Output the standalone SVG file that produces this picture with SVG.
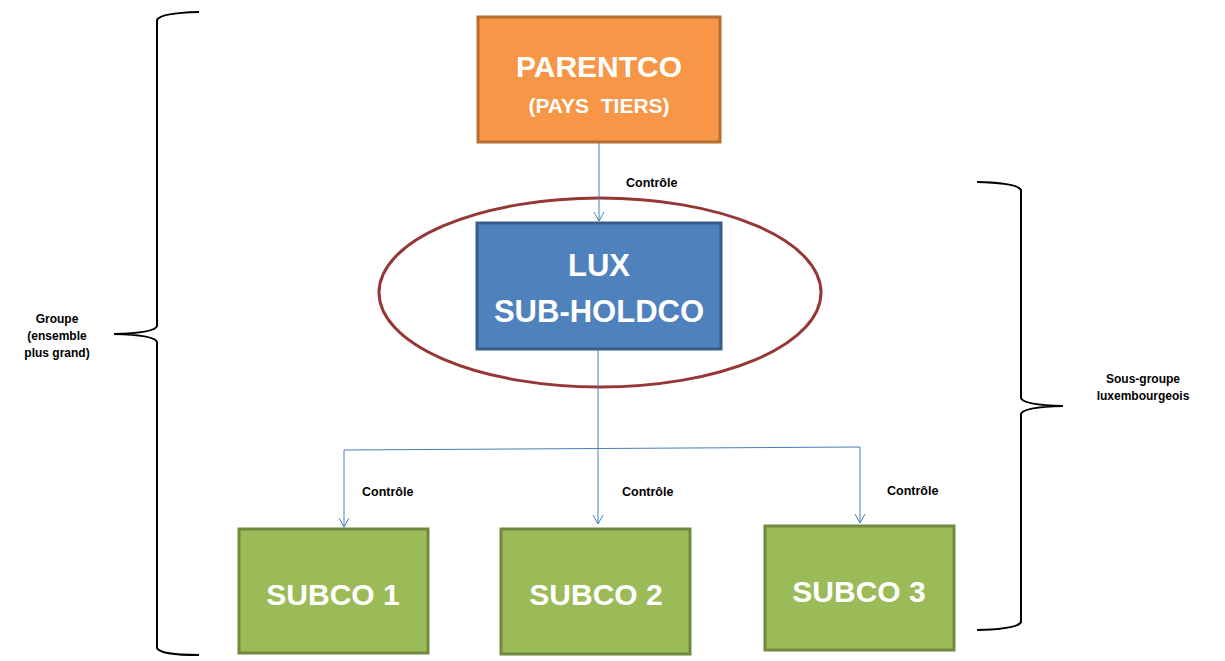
<svg xmlns="http://www.w3.org/2000/svg" width="1225" height="661" viewBox="0 0 1225 661">
<style>
.box{stroke-width:3}
.t{font-family:"Liberation Sans",Arial,sans-serif;font-weight:bold;fill:#fff;text-anchor:middle}
.lbl{font-family:"Liberation Sans",Arial,sans-serif;font-weight:bold;fill:#000;font-size:12.5px}
.side{font-family:"Liberation Sans",Arial,sans-serif;font-weight:bold;fill:#000;font-size:12px;text-anchor:middle}
.conn{fill:none;stroke:#4A7EBB;stroke-width:1}
.brace{fill:none;stroke:#000;stroke-width:2}
</style>
<defs>
<marker id="arr" markerWidth="14" markerHeight="14" refX="10" refY="6" orient="auto" markerUnits="userSpaceOnUse">
<path d="M1,1 L10,6 L1,11" fill="none" stroke="#4A7EBB" stroke-width="1"/>
</marker>
</defs>
<rect width="1225" height="661" fill="#fff"/>
<g id="braces">
<path class="brace" d="M199,12 Q160,13 157,20 L157,326 Q155,333 114,334 Q155,335 157,342 L157,648 Q160,655 199,655"/>
<path class="brace" d="M977,182 Q1018,183 1021,190 L1021,398 Q1023,405 1063,406 Q1023,407 1021,414 L1021,622 Q1018,629 977,630"/>
</g>
<g id="ellipse">
<ellipse cx="600" cy="292.5" rx="221" ry="94.5" fill="none" stroke="#953735" stroke-width="3"/>
</g>
<g id="connectors">
<line class="conn" x1="599" y1="143" x2="599" y2="221" marker-end="url(#arr)"/>
<line class="conn" x1="598" y1="350" x2="598" y2="524" marker-end="url(#arr)"/>
<polyline class="conn" points="860,447 344,450"/>
<line class="conn" x1="344" y1="450" x2="344" y2="527" marker-end="url(#arr)"/>
<line class="conn" x1="860" y1="447" x2="860" y2="523" marker-end="url(#arr)"/>
</g>
<g id="labels">
<text class="lbl" x="626" y="187">Contrôle</text>
<text class="lbl" x="362" y="496">Contrôle</text>
<text class="lbl" x="622" y="496">Contrôle</text>
<text class="lbl" x="887" y="495">Contrôle</text>
<text class="side" x="57" y="323">Groupe</text>
<text class="side" x="57" y="340">(ensemble</text>
<text class="side" x="57" y="357">plus grand)</text>
<text class="side" x="1143" y="383">Sous-groupe</text>
<text class="side" x="1143" y="400">luxembourgeois</text>
</g>
<g id="parentco">
<rect class="box" x="478" y="17" width="242" height="125" fill="#F79646" stroke="#B66D31"/>
<text class="t" x="599" y="77" font-size="30">PARENTCO</text>
<text class="t" x="599" y="113" font-size="21" xml:space="preserve">(PAYS  TIERS)</text>
</g>
<g id="luxsubholdco">
<rect class="box" x="477" y="223" width="244" height="126" fill="#4F81BD" stroke="#385D8A"/>
<text class="t" x="599" y="276" font-size="31">LUX</text>
<text class="t" x="599" y="322" font-size="31">SUB-HOLDCO</text>
</g>
<g id="subco1">
<rect class="box" x="239" y="529" width="189" height="124" fill="#9BBB59" stroke="#71893F"/>
<text class="t" x="333" y="605" font-size="30">SUBCO 1</text>
</g>
<g id="subco2">
<rect class="box" x="501" y="529" width="189" height="125" fill="#9BBB59" stroke="#71893F"/>
<text class="t" x="596" y="605" font-size="30">SUBCO 2</text>
</g>
<g id="subco3">
<rect class="box" x="765" y="526" width="189" height="124" fill="#9BBB59" stroke="#71893F"/>
<text class="t" x="859" y="602" font-size="30">SUBCO 3</text>
</g>
</svg>
